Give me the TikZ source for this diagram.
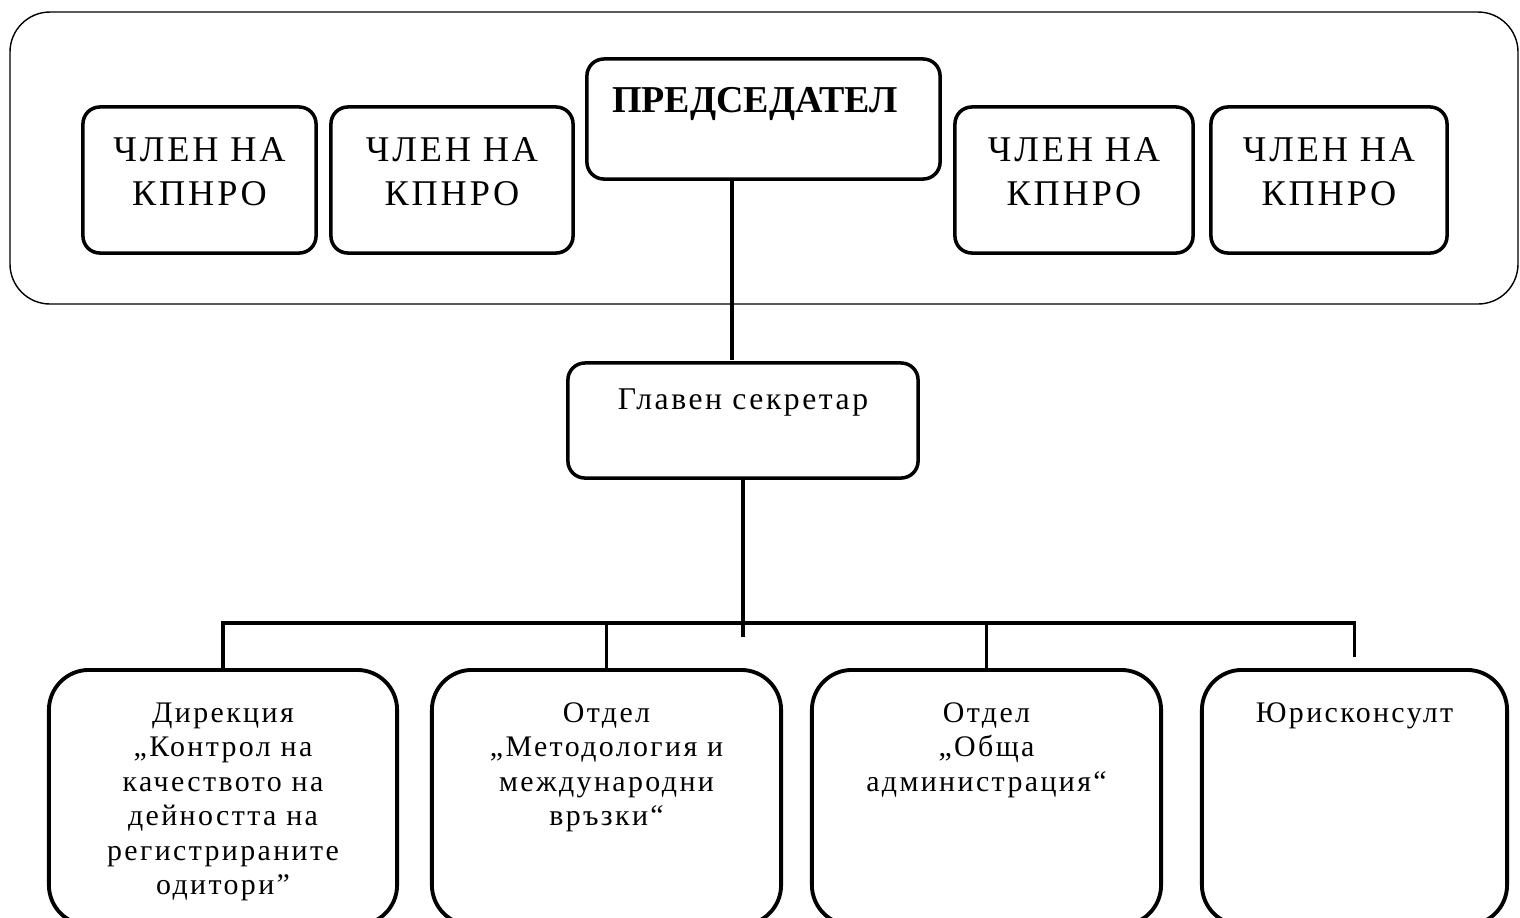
\documentclass[tikz,border=0pt]{standalone}
\usepackage{fontspec}
\setmainfont{Liberation Serif}
\newfontfamily\wide[LetterSpace=8]{Liberation Serif}

\begin{document}
\begin{tikzpicture}[x=0.01cm,y=-0.01cm,
  box/.style={draw,line width=1pt,rounded corners=0.17cm,minimum width=#1,inner sep=0pt},
  dept/.style={draw,line width=1.1pt,rounded corners=0.4cm,minimum width=#1,minimum height=2.55cm,inner sep=0pt},
  member/.style={font=\wide\fontsize{10.3}{12.5}\selectfont,align=center,inner sep=0pt,anchor=north},
  lbl/.style={font=\wide\fontsize{8.5}{9.8}\selectfont,align=center,inner sep=0pt,anchor=north},
  link/.style={line width=0.9pt}]
\useasboundingbox (0,0) rectangle (1520,917);
\clip (0,0) rectangle (1520,917);

% commission
\draw[line width=0.4pt,rounded corners=0.4cm] (10,12) rectangle (1518,304);
\node[box=2.33cm,minimum height=1.46cm] (m1) at (199.5,180) {};
\node[box=2.42cm,minimum height=1.46cm] (m2) at (452,180) {};
\node[box=2.38cm,minimum height=1.46cm] (m4) at (1074,180) {};
\node[box=2.36cm,minimum height=1.46cm] (m5) at (1329,180) {};
\node[member] (m1t) at (199.5,137) {ЧЛЕН НА\\КПНРО};
\node[member] (m2t) at (452,137) {ЧЛЕН НА\\КПНРО};
\node[member] (m4t) at (1074,137) {ЧЛЕН НА\\КПНРО};
\node[member] (m5t) at (1329,137) {ЧЛЕН НА\\КПНРО};
\node[box=3.53cm,minimum height=1.2cm] (pr) at (763.5,119) {};
\node[anchor=north,inner sep=0pt,font=\bfseries\fontsize{10.8}{13}\selectfont] (prt) at (755,87) {ПРЕДСЕДАТЕЛ};

% secretary
\node[box=3.5cm,minimum height=1.15cm] (sec) at (743,420.5) {};
\node[anchor=north,inner sep=0pt,font=\wide\fontsize{9}{11}\selectfont] (sect) at (743,388) {Главен секретар};
\coordinate (pj) at (732,360);
\draw[link] (pr.south -| pj) -- (pj);

% departments
\node[dept=3.48cm] (d1) at (223,797.5) {};
\node[dept=3.49cm] (d2) at (606.5,797.5) {};
\node[dept=3.49cm] (d3) at (986.5,797.5) {};
\node[dept=3.05cm] (d4) at (1354.5,797.5) {};
\node[lbl] (d1t) at (223,702) {Дирекция\\„Контрол на\\качеството на\\дейността на\\регистрираните\\одитори”};
\node[lbl] (d2t) at (606.5,702) {Отдел\\„Методология и\\международни\\връзки“};
\node[lbl] (d3t) at (986.5,702) {Отдел\\„Обща\\администрация“};
\node[lbl] (d4t) at (1354.5,702) {Юрисконсулт};

\coordinate (bar) at (743,623);
\draw[link] (sec.south) -- ([yshift=-4]sec.south |- bar);
\draw[link] (d1.north) |- (d4.north |- bar) -- ([yshift=3]d4.north);
\draw[link] (d2.north) -- (d2.north |- bar);
\draw[link] (d3.north) -- (d3.north |- bar);
\end{tikzpicture}
\end{document}
